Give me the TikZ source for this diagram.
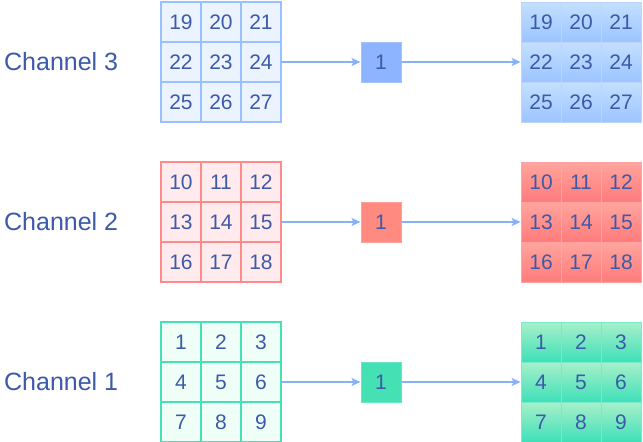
\documentclass[tikz,border=0pt]{standalone}
\usepackage{fontspec}
\setmainfont{Liberation Sans}
\definecolor{txt}{HTML}{3D5AA8}
\definecolor{arrc}{HTML}{88B0F8}
\definecolor{bS}{HTML}{99C0FF}\definecolor{bF}{HTML}{EBF3FF}\definecolor{bB}{HTML}{8CB4FF}
\definecolor{bT}{HTML}{C4E0FF}\definecolor{bD}{HTML}{9CC4FF}
\definecolor{rS}{HTML}{FF8A8A}\definecolor{rF}{HTML}{FFEBEE}\definecolor{rB}{HTML}{FF8A80}
\definecolor{rT}{HTML}{FFA59E}\definecolor{rD}{HTML}{FF7B7B}
\definecolor{gS}{HTML}{45E0B4}\definecolor{gF}{HTML}{EFFFF7}\definecolor{gB}{HTML}{45E0B4}
\definecolor{gT}{HTML}{A8F0CA}\definecolor{gD}{HTML}{3EE0B8}
\usetikzlibrary{arrows.meta}
\newcommand\mkgrid[5]{%
 \foreach \r in {1,2,3}{\foreach \c in {1,2,3}{%
   \pgfmathtruncatemacro\n{#4+(\r-1)*3+\c-1}%
   \node[#5] (#1-\r-\c) at ({#2+(\c-2)*40},{#3+(\r-2)*40}) {\n};}}}
\begin{document}
\begin{tikzpicture}[x=1pt,y=-1pt,
  cellbase/.style={minimum size=40pt,inner sep=0pt,text=txt,font=\fontsize{21}{25}\selectfont},
  lcell/.style={cellbase,line width=2pt,draw=#1S,fill=#1F},
  rcell/.style={cellbase,line width=0.8pt,draw=#1D!70!white,top color=#1T,bottom color=#1D},
  midbox/.style={cellbase,line width=1pt,draw=#1B!80!white,fill=#1B},
  lab/.style={text=txt,font=\fontsize{25}{29}\selectfont,anchor=west,inner sep=0pt},
  arr/.style={draw=arrc,line width=1.5pt,-{Stealth[length=9pt,width=8pt,inset=2pt]}}]
\useasboundingbox (0,0) rectangle (643,442);
\fill[white] (0,0) rectangle (643,442);
% Channel 3
\node[lab] (c3) at (4,62) {Channel 3};
\mkgrid{L3}{221}{62}{19}{lcell=b}
\node[midbox=b] (B3) at (381,62) {1};
\mkgrid{R3}{581}{62}{19}{rcell=b}
\draw[arr] (L3-2-3.east) -- (B3.west);
\draw[arr] (B3.east) -- (R3-2-1.west);
% Channel 2
\node[lab] (c2) at (4,222) {Channel 2};
\mkgrid{L2}{221}{222}{10}{lcell=r}
\node[midbox=r] (B2) at (381,222) {1};
\mkgrid{R2}{581}{222}{10}{rcell=r}
\draw[arr] (L2-2-3.east) -- (B2.west);
\draw[arr] (B2.east) -- (R2-2-1.west);
% Channel 1
\node[lab] (c1) at (4,382) {Channel 1};
\mkgrid{L1}{221}{382}{1}{lcell=g}
\node[midbox=g] (B1) at (381,382) {1};
\mkgrid{R1}{581}{382}{1}{rcell=g}
\draw[arr] (L1-2-3.east) -- (B1.west);
\draw[arr] (B1.east) -- (R1-2-1.west);
\end{tikzpicture}
\end{document}
